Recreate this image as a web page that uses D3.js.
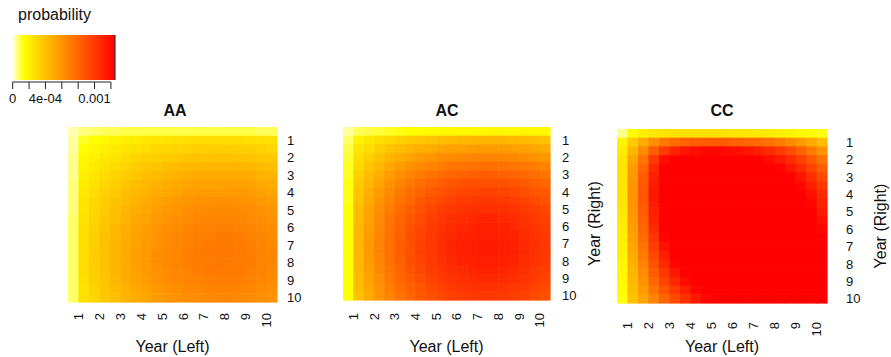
<!DOCTYPE html>
<html>
<head>
<meta charset="utf-8">
<script src="https://cdn.jsdelivr.net/npm/d3@7"></script>
<style>
  body { margin: 0; background: #fff; }
  text { font-family: "Liberation Sans", Arial, sans-serif; fill: #111; }
</style>
</head>
<body>
<div id="canvas"></div>
<script>
"use strict"
// canvas size
let svgWidth = 891;
let svgHeight = 357;

// ---- data ----
let panelNames = ["AA", "AC", "CC"];
let yearTicks = [1, 2, 3, 4, 5, 6, 7, 8, 9, 10];
let legendTicks = [0, 0.0002, 0.0004, 0.0006, 0.0008, 0.001, 0.0012];
let legendTickLabels = ["0", "", "4e-04", "", "", "0.001", ""];

// probability in units of 1e-5, 20 x 20 half-year cells
// rows = Year (Right) from top, columns = Year (Left) from left
let aaValues = [
  [3,6,7,8,8,9,9,9,9,9,9,9,9,9,9,9,9,9,8,8],
  [4,11,13,16,18,20,21,23,24,25,26,27,28,28,28,28,28,27,26,26],
  [4,13,17,19,22,24,26,28,30,31,32,33,34,34,35,35,34,34,33,31],
  [5,16,19,23,25,28,31,33,35,36,37,39,39,40,40,40,40,39,38,37],
  [5,18,22,25,29,32,35,37,39,41,42,44,44,45,45,45,45,44,43,41],
  [5,20,24,28,32,35,38,41,43,45,47,48,49,50,50,50,50,49,47,46],
  [6,21,26,31,34,38,42,44,47,49,51,53,54,54,55,55,54,53,51,50],
  [6,23,28,33,37,41,44,47,50,52,54,56,57,58,58,58,58,57,55,53],
  [6,24,30,35,39,43,47,50,53,56,58,59,61,61,62,62,61,60,58,56],
  [6,25,31,36,41,45,49,52,56,58,60,62,64,64,65,65,64,63,61,59],
  [7,26,32,38,42,47,51,54,58,60,62,64,66,66,67,67,66,65,63,61],
  [7,27,33,39,44,48,53,56,59,62,64,66,68,68,69,69,68,67,65,63],
  [7,28,34,40,44,49,54,57,61,64,66,68,69,70,71,71,70,68,66,64],
  [7,28,34,40,45,50,54,58,61,64,66,68,70,71,71,71,71,69,67,65],
  [7,28,35,40,45,50,55,58,62,65,67,69,71,71,72,72,71,70,68,66],
  [7,28,35,40,45,50,55,58,62,65,67,69,71,71,72,72,71,70,68,66],
  [7,28,34,40,45,50,54,58,61,64,66,68,70,71,71,71,71,69,67,65],
  [7,27,34,39,44,49,53,57,60,63,65,67,68,69,70,70,69,68,66,64],
  [7,26,32,38,43,47,51,55,58,61,63,65,66,67,68,68,67,66,64,62],
  [7,26,31,37,41,46,50,53,56,59,61,63,64,65,66,66,65,64,62,60]
];

let acValues = [
  [4,8,9,10,11,12,13,14,14,15,15,15,16,16,16,16,16,16,15,15],
  [7,18,23,27,30,33,36,38,40,42,43,44,45,45,45,45,44,43,42,40],
  [9,23,28,33,38,42,45,48,50,53,54,55,56,57,57,56,55,54,52,50],
  [10,27,33,39,45,49,53,57,59,62,64,65,66,67,67,66,65,63,61,59],
  [11,30,38,45,51,56,61,64,67,70,73,74,75,76,76,75,73,72,70,67],
  [11,33,42,49,56,62,67,71,74,78,80,82,83,84,84,83,81,79,77,74],
  [12,36,45,53,61,67,72,77,80,84,87,89,90,90,90,90,88,86,83,80],
  [12,38,48,57,64,71,77,82,86,89,92,94,95,96,96,95,93,91,88,86],
  [12,40,50,59,67,74,80,86,90,94,97,99,100,101,101,100,98,96,93,90],
  [13,42,53,62,70,78,84,89,94,98,101,103,104,105,105,104,102,100,97,94],
  [13,43,54,64,73,80,87,92,97,101,104,106,107,109,109,107,105,103,100,97],
  [13,44,55,65,74,82,89,94,99,103,106,108,110,111,111,110,107,105,102,99],
  [13,45,56,66,75,83,90,95,100,104,107,110,111,112,112,111,109,106,103,100],
  [13,45,57,67,76,84,90,96,101,105,109,111,112,113,113,112,110,107,104,101],
  [13,45,57,67,76,84,90,96,101,105,109,111,112,113,113,112,110,107,104,101],
  [13,45,56,66,75,83,90,95,100,104,107,110,111,112,112,111,109,106,103,100],
  [13,44,55,65,73,81,88,93,98,102,105,107,109,110,110,109,106,104,101,98],
  [13,43,54,63,72,80,86,91,96,100,103,105,106,107,107,106,104,102,99,96],
  [13,42,52,61,70,77,83,88,93,97,100,102,103,104,104,103,101,99,96,93],
  [13,40,50,59,67,74,80,86,90,94,97,99,100,101,101,100,98,96,93,90]
];

let ccValues = [
  [5,14,20,23,25,26,26,26,26,26,25,25,24,23,22,20,18,16,14,12],
  [18,36,50,62,72,78,82,84,85,85,84,82,80,78,75,70,65,58,50,42],
  [22,45,64,85,100,110,116,120,122,122,121,119,116,112,106,100,92,83,72,60],
  [24,52,74,100,120,130,135,138,140,140,138,135,130,125,120,114,106,97,86,74],
  [25,56,80,108,128,140,148,150,152,152,150,146,142,136,130,124,116,107,96,84],
  [25,58,84,112,134,148,155,160,160,160,158,155,150,145,138,132,125,116,105,93],
  [25,60,86,114,136,150,160,165,166,166,164,160,156,150,145,138,130,122,112,100],
  [25,60,87,115,137,152,162,168,170,170,168,164,160,155,150,144,136,128,118,106],
  [24,60,86,114,136,152,162,168,170,170,168,166,162,158,152,146,140,132,122,110],
  [23,59,85,112,134,150,160,166,168,170,168,166,162,158,154,148,142,135,126,114],
  [22,58,83,110,132,148,158,164,166,168,166,164,162,158,154,149,144,137,128,118],
  [21,56,80,106,128,144,154,160,163,164,164,162,160,157,153,149,144,138,130,122],
  [20,54,77,102,123,140,150,156,160,162,162,160,158,156,152,148,144,138,132,125],
  [19,52,74,98,118,134,146,152,156,158,158,158,156,154,150,147,143,138,133,128],
  [18,50,71,94,112,128,140,148,152,155,156,155,154,152,149,146,142,138,134,130],
  [17,48,68,90,107,122,134,142,148,151,152,152,151,150,147,144,141,138,134,130],
  [16,46,64,85,101,115,127,136,142,146,148,148,148,147,145,142,140,137,134,130],
  [15,44,61,80,95,108,120,130,136,141,144,145,145,144,143,141,138,136,133,130],
  [14,42,57,74,88,100,112,122,130,135,139,141,142,142,141,139,137,135,132,129],
  [12,40,53,68,80,92,104,114,122,128,133,136,138,139,139,138,136,134,131,128]
];

let panelValues = [aaValues, acValues, ccValues];

// ---- layout (where each panel sits on the page) ----
let panelBoxes = [
  { x0: 68,  x1: 277, y0: 127, y1: 302, titleX: 175, rowLabelX: 287, colLabelY: 313, xLabY: 352, yLabX: 322, bgLeft: 0 },
  { x0: 343, x1: 550, y0: 127, y1: 300, titleX: 447, rowLabelX: 562, colLabelY: 313, xLabY: 352, yLabX: 594, bgLeft: 302 },
  { x0: 617, x1: 827, y0: 129, y1: 303, titleX: 722, rowLabelX: 846, colLabelY: 322, xLabY: 352, yLabX: 880, bgLeft: 0 }
];

let svg = d3.select("#canvas")
  .append("svg")
  .attr("width", svgWidth)
  .attr("height", svgHeight);

svg.append("rect")
  .attr("width", svgWidth)
  .attr("height", svgHeight)
  .attr("fill", "#ffffff");

// colour scale: pale -> yellow -> red, saturates above the top
let colorScale = d3.scaleLinear()
  .domain([0, 0.00013, 0.00125])
  .range(["#ffffe6", "#ffff00", "#ff0000"])
  .clamp(true);

panelNames.forEach(function (name, i) {
  drawPanel(name, panelValues[i], panelBoxes[i]);
});

drawLegend();


function drawPanel(name, values, box) {
  let g = svg.append("g");

  // white backing, the next panel covers the end of the previous one
  if (box.bgLeft > 0) {
    g.append("rect")
      .attr("x", box.bgLeft)
      .attr("y", 100)
      .attr("width", box.x0 - box.bgLeft)
      .attr("height", 200)
      .attr("fill", "#ffffff");
  }

  // build cell table from the value rows
  let cells = [];
  values.forEach(function (row, r) {
    row.forEach(function (v, c) {
      cells.push({ r: r, c: c, p: v * 1e-5 });
    });
  });

  let xCell = d3.scaleBand().domain(d3.range(values[0].length)).range([box.x0, box.x1]);
  let yCell = d3.scaleBand().domain(d3.range(values.length)).range([box.y0, box.y1]);

  g.selectAll("rect.cell")
    .data(cells)
    .join("rect")
    .attr("class", "cell")
    .attr("x", function (d) { return xCell(d.c); })
    .attr("y", function (d) { return yCell(d.r); })
    .attr("width", xCell.bandwidth() + 0.6)
    .attr("height", yCell.bandwidth() + 0.6)
    .attr("fill", function (d) { return colorScale(d.p); });

  // year scales for the labels (each year = 2 cells)
  let xYear = d3.scaleLinear().domain([0.5, 10.5]).range([box.x0, box.x1]);
  let yYear = d3.scaleLinear().domain([0.25, 10.25]).range([box.y0, box.y1]);

  // right side labels 1..10
  let rightAxis = g.append("g")
    .attr("transform", "translate(" + box.rowLabelX + ",0)")
    .call(d3.axisRight(yYear).tickValues(yearTicks).tickSize(0).tickPadding(0));
  rightAxis.select(".domain").remove();
  rightAxis.selectAll("text")
    .attr("font-family", "Liberation Sans, Arial, sans-serif")
    .attr("font-size", 13)
    .attr("fill", "#111");

  // bottom labels, rotated
  g.selectAll("text.colLabel")
    .data(yearTicks)
    .join("text")
    .attr("class", "colLabel")
    .attr("transform", function (d) { return "translate(" + xYear(d) + "," + box.colLabelY + ") rotate(-90)"; })
    .attr("text-anchor", "end")
    .attr("dy", "0.35em")
    .attr("font-size", 13)
    .text(function (d) { return d; });

  // title
  g.append("text")
    .attr("x", box.titleX)
    .attr("y", 116)
    .attr("text-anchor", "middle")
    .attr("font-size", 16)
    .attr("font-weight", "bold")
    .text(name);

  // axis titles
  g.append("text")
    .attr("x", (box.x0 + box.x1) / 2)
    .attr("y", box.xLabY)
    .attr("text-anchor", "middle")
    .attr("font-size", 16)
    .text("Year (Left)");

  g.append("text")
    .attr("transform", "translate(" + box.yLabX + "," + ((box.y0 + box.y1) / 2 + 10) + ") rotate(-90)")
    .attr("text-anchor", "middle")
    .attr("dy", "0.35em")
    .attr("font-size", 16)
    .text("Year (Right)");
}


function drawLegend() {
  let lx0 = 12.7, lx1 = 115, ly0 = 35, ly1 = 80;

  let legendScale = d3.scaleLinear().domain([0, 0.00125]).range([lx0, lx1]);

  svg.append("text")
    .attr("x", 18)
    .attr("y", 20)
    .attr("font-size", 16)
    .text("probability");

  // gradient from the colour scale
  let defs = svg.append("defs");
  let grad = defs.append("linearGradient")
    .attr("id", "probGradient")
    .attr("x1", "0%").attr("x2", "100%")
    .attr("y1", "0%").attr("y2", "0%");

  d3.range(0, 1.0001, 0.05).forEach(function (t) {
    grad.append("stop")
      .attr("offset", (t * 100) + "%")
      .attr("stop-color", colorScale(legendScale.invert(lx0 + t * (lx1 - lx0))));
  });

  svg.append("rect")
    .attr("x", lx0)
    .attr("y", ly0)
    .attr("width", lx1 - lx0)
    .attr("height", ly1 - ly0)
    .attr("fill", "url(#probGradient)");

  // dark edge on the right
  svg.append("line")
    .attr("x1", lx1).attr("x2", lx1)
    .attr("y1", ly0).attr("y2", ly1)
    .attr("stroke", "#333")
    .attr("stroke-width", 1.2);

  // axis line + ticks
  let axisY = 82;
  svg.append("line")
    .attr("x1", legendScale(legendTicks[0]))
    .attr("x2", legendScale(legendTicks[legendTicks.length - 1]))
    .attr("y1", axisY).attr("y2", axisY)
    .attr("stroke", "#222");

  svg.selectAll("line.ltick")
    .data(legendTicks)
    .join("line")
    .attr("class", "ltick")
    .attr("x1", function (d) { return legendScale(d); })
    .attr("x2", function (d) { return legendScale(d); })
    .attr("y1", axisY).attr("y2", axisY + 7)
    .attr("stroke", "#222");

  svg.selectAll("text.ltext")
    .data(legendTicks)
    .join("text")
    .attr("class", "ltext")
    .attr("x", function (d) { return legendScale(d); })
    .attr("y", 103)
    .attr("text-anchor", "middle")
    .attr("font-size", 13)
    .text(function (d, i) { return legendTickLabels[i]; });
}
</script>
</body>
</html>
